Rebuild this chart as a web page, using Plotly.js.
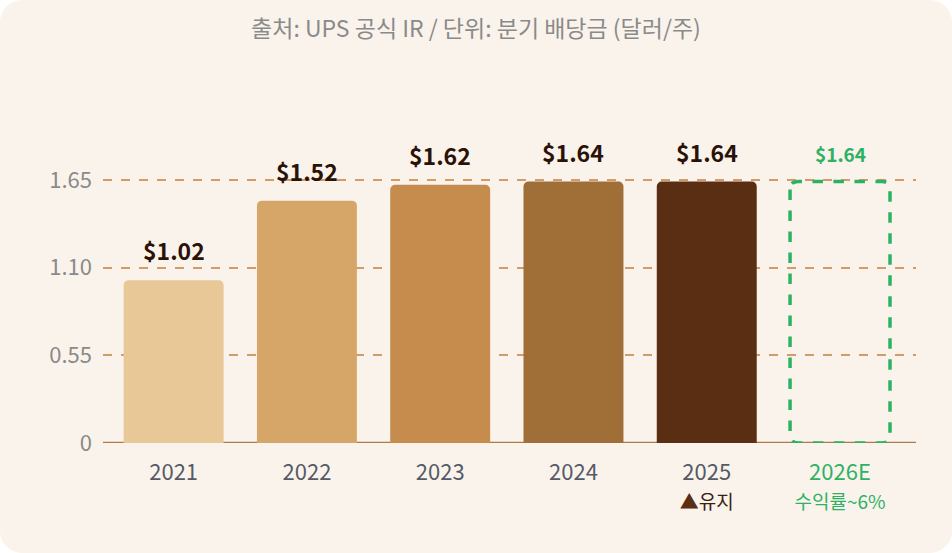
<!DOCTYPE html>
<html>
<head>
<meta charset="utf-8">
<script src="https://cdn.plot.ly/plotly-3.0.1.min.js"></script>
<style>
  html, body { margin: 0; padding: 0; background: #ffffff; }
  #graph { width: 952px; height: 553px; border-radius: 22px; overflow: hidden; }
</style>
</head>
<body>
<div id="graph"></div>
<script>
// quarterly dividend per share, UPS
const years = ['2021', '2022', '2023', '2024', '2025', '2026E'];
const dividends = [1.02, 1.52, 1.62, 1.64, 1.64, 1.64];
const barColors = ['#E8C897', '#D6A668', '#C68C4E', '#A06E37', '#5A2E13'];
const tickLabels = [
    '2021',
    '2022',
    '2023',
    '2024',
    '2025<br><span style="font-size:19px;color:#3a2010"><span style="color:#5A2E13">▲</span>유지</span>',
    '<span style="color:#2DB263">2026E</span><br><span style="font-size:19px;color:#2DB263">수익률~6%</span>'
];
const yTicks = [0, 0.55, 1.10, 1.65];
const yTickText = ['0', '0.55', '1.10', '1.65'];

const green = '#2DB263';
const font = 'Noto Sans CJK KR, Noto Sans, sans-serif';

const bars = {
    x: [0, 1, 2, 3, 4],
    y: dividends.slice(0, 5),
    type: 'bar',
    width: 0.75,
    marker: {color: barColors, line: {width: 0}},
    hoverinfo: 'skip'
};

// estimate: dashed outline box built from the data value
const estIdx = 5;
const estVal = dividends[estIdx];
const hw = 0.375, rx = 0.06, ry = 0.05;
const x0 = estIdx - hw, x1 = estIdx + hw;
const estPath = 'M ' + x0 + ',' + (estVal - ry) +
    ' L ' + x0 + ',' + ry +
    ' Q ' + x0 + ',0 ' + (x0 + rx) + ',0' +
    ' L ' + (x1 - rx) + ',0' +
    ' Q ' + x1 + ',0 ' + x1 + ',' + ry +
    ' L ' + x1 + ',' + (estVal - ry) +
    ' Q ' + x1 + ',' + estVal + ' ' + (x1 - rx) + ',' + estVal +
    ' L ' + (x0 + rx) + ',' + estVal +
    ' Q ' + x0 + ',' + estVal + ' ' + x0 + ',' + (estVal - ry) + ' Z';

const annotations = years.map(function(yr, i) {
    const isEst = i === estIdx;
    return {
        x: i,
        y: dividends[i],
        xref: 'x',
        yref: 'y',
        text: '<b>$' + dividends[i].toFixed(2) + '</b>',
        showarrow: false,
        yanchor: 'bottom',
        yshift: isEst ? 13 : 11,
        font: {family: font, size: isEst ? 19 : 23, color: isEst ? green : '#2a1206'}
    };
});

const layout = {
    width: 952,
    height: 553,
    paper_bgcolor: '#FAF3EC',
    plot_bgcolor: '#FAF3EC',
    margin: {l: 103, r: 36, t: 156, b: 110},
    showlegend: false,
    title: {
        text: '출처: UPS 공식 IR / 단위: 분기 배당금 (달러/주)',
        x: 0.5,
        xanchor: 'center',
        y: 0.948,
        yanchor: 'middle',
        font: {family: font, size: 23, color: '#8a8a8a'}
    },
    xaxis: {
        type: 'linear',
        range: [-0.53, 5.57],
        tickvals: [0, 1, 2, 3, 4, 5],
        ticktext: tickLabels,
        showgrid: false,
        zeroline: false,
        showline: false,
        ticks: '',
        ticklabelstandoff: 14,
        tickfont: {family: font, size: 22, color: '#555a66'}
    },
    yaxis: {
        range: [0, 1.8],
        tickvals: yTicks,
        ticktext: yTickText,
        showgrid: true,
        gridcolor: '#D49A68',
        griddash: 'dash',
        gridwidth: 2,
        zeroline: false,
        showline: false,
        ticks: '',
        ticklabelstandoff: 10,
        tickfont: {family: font, size: 22, color: '#8a8a8a'}
    },
    shapes: [
        {
            type: 'line',
            xref: 'paper', yref: 'y',
            x0: 0, x1: 1, y0: 0, y1: 0,
            line: {color: '#B07A45', width: 2.5},
            layer: 'below'
        },
        {
            type: 'path',
            xref: 'x', yref: 'y',
            path: estPath,
            line: {color: green, width: 3.5, dash: 'dash'},
            fillcolor: 'rgba(0,0,0,0)'
        }
    ],
    annotations: annotations,
    barcornerradius: 5
};

Plotly.newPlot('graph', [bars], layout, {displayModeBar: false, staticPlot: true});
</script>
</body>
</html>
